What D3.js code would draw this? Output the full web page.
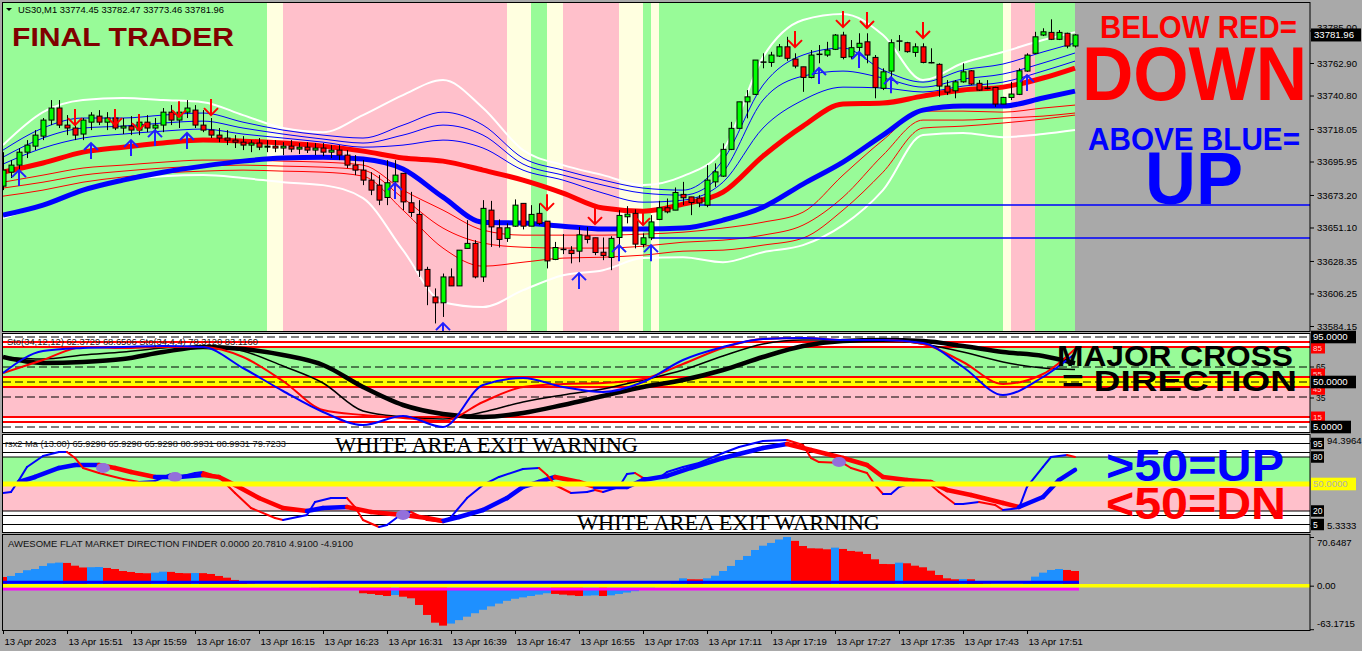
<!DOCTYPE html>
<html><head><meta charset="utf-8">
<script src="https://cdn.jsdelivr.net/npm/d3@7"></script>
<style>
html,body{margin:0;padding:0;background:#A9A9A9;}
svg{display:block;}
</style></head><body>
<svg id="c" width="1362" height="651" font-family="Liberation Sans, Arial, sans-serif"></svg>
<script>
// ---------------- DATA ----------------
const openP = [
33679.2,33688.7,33693.5,33702.3,33706.4,33713.2,33724.1,33732.3,33720.7,33718.7,
33714.6,33722.7,33726.8,33722.7,33725.5,33718.7,33720.0,33717.3,33722.7,33718.7,
33720.7,33729.5,33724.1,33729.5,33730.9,33720.7,33717.3,33713.9,33711.9,33710.5,
33709.1,33707.1,33708.5,33705.7,33706.4,33705.1,33706.4,33704.4,33705.7,33703.7,
33705.1,33702.3,33703.7,33700.3,33693.5,33690.1,33683.3,33679.9,33671.5,33682.1,
33687.9,33667.9,33660.0,33622.6,33603.9,33599.9,33617.5,33611.4,33636.9,33640.3,
33617.5,33662.9,33650.9,33643.7,33652.0,33667.5,33652.0,33660.7,33655.4,33629.4,
33636.2,33635.7,33635.0,33645.4,33644.1,33634.3,33630.7,33644.3,33658.4,33660.7,
33639.6,33644.1,33656.6,33664.5,33662.9,33673.6,33671.9,33671.1,33666.3,33682.1,
33686.0,33704.2,33718.5,33736.5,33741.6,33763.5,33763.3,33767.6,33773.9,33765.6,
33760.3,33753.1,33768.8,33768.3,33772.2,33781.9,33767.1,33773.5,33777.3,33766.7,
33745.7,33757.4,33777.8,33776.7,33770.1,33773.9,33763.1,33762.0,33747.2,33744.0,
33750.1,33757.6,33749.1,33745.7,33746.3,33735.0,33739.5,33741.6,33757.4,33769.5,
33781.9,33783.7,33779.0,33783.1,33774.45];
const highP = [
33702.3,33696.9,33705.1,33710.5,33717.3,33725.5,33737.7,33737.7,33727.5,33720.7,
33725.5,33729.5,33730.9,33729.5,33729.5,33725.5,33726.8,33725.5,33727.5,33725.5,
33732.3,33734.3,33732.3,33737.7,33734.3,33730.9,33725.5,33718.7,33717.3,33713.9,
33713.2,33710.5,33711.9,33710.5,33710.5,33709.1,33710.5,33708.5,33709.1,33708.5,
33708.5,33707.1,33707.1,33703.7,33700.3,33696.9,33688.7,33686.7,33696.9,33696.9,
33688.1,33675.3,33669.7,33624.4,33609.7,33619.8,33623.3,33635.7,33656.1,33642.5,
33669.7,33669.2,33656.6,33653.9,33670.2,33667.5,33666.3,33667.5,33655.4,33641.3,
33646.6,33638.4,33651.5,33651.5,33644.1,33644.3,33645.2,33662.9,33665.6,33663.4,
33647.1,33659.5,33669.2,33670.8,33678.3,33682.1,33671.9,33673.1,33693.5,33694.7,
33708.3,33722.9,33736.5,33744.5,33764.9,33769.5,33770.5,33775.8,33780.7,33769.5,
33760.3,33771.7,33775.1,33777.3,33782.6,33784.1,33778.5,33783.1,33783.1,33768.3,
33759.3,33779.0,33781.9,33777.3,33776.3,33776.3,33772.9,33762.7,33751.3,33751.3,
33762.7,33758.1,33751.3,33751.3,33746.7,33739.9,33750.1,33759.3,33769.5,33784.1,
33786.5,33792.6,33785.3,33783.5,33782.47];
const lowP = [
33676.5,33684.7,33688.7,33698.3,33703.7,33710.5,33720.7,33718.7,33713.9,33710.5,
33710.5,33717.3,33720.7,33717.3,33717.3,33714.6,33713.9,33713.9,33715.9,33713.9,
33715.9,33720.7,33718.7,33725.5,33718.7,33715.9,33711.9,33709.1,33707.1,33705.1,
33703.7,33702.3,33703.7,33702.3,33702.3,33700.3,33702.3,33701.0,33701.7,33700.3,
33699.6,33698.3,33696.9,33691.5,33686.7,33679.9,33673.1,33666.3,33666.3,33675.3,
33662.9,33658.3,33617.5,33598.3,33585.9,33590.3,33611.4,33611.4,33636.9,33616.5,
33614.1,33637.9,33637.5,33641.3,33651.5,33649.8,33652.0,33652.7,33623.3,33628.9,
33633.0,33626.7,33627.5,33640.3,33632.3,33628.9,33622.1,33635.7,33653.9,33636.9,
33637.5,33642.5,33656.1,33660.7,33662.9,33666.3,33659.5,33664.9,33664.9,33678.7,
33685.5,33703.7,33718.5,33725.3,33741.1,33759.3,33760.3,33767.1,33764.4,33759.3,
33743.3,33752.5,33762.7,33767.1,33771.7,33765.4,33765.4,33766.1,33762.7,33738.9,
33744.5,33751.3,33771.2,33769.9,33767.1,33762.7,33762.7,33739.9,33741.1,33738.9,
33749.5,33747.9,33744.0,33745.0,33733.1,33735.0,33737.7,33741.1,33756.9,33769.0,
33781.2,33778.5,33778.5,33772.9,33773.46];
const closeP = [
33690.1,33693.5,33702.3,33707.1,33713.9,33724.1,33732.3,33720.7,33718.7,33713.9,
33724.1,33727.5,33722.7,33725.5,33718.7,33720.0,33717.3,33722.7,33718.7,33720.7,
33729.5,33724.1,33729.5,33732.3,33720.7,33717.3,33713.9,33711.9,33710.5,33709.1,
33707.1,33708.5,33705.7,33706.4,33705.1,33706.4,33704.4,33705.7,33703.7,33705.1,
33702.3,33703.7,33700.3,33693.5,33690.1,33683.3,33676.5,33669.7,33681.5,33686.7,
33668.5,33661.3,33622.1,33611.2,33599.9,33617.5,33611.4,33635.7,33640.3,33617.5,
33664.1,33651.5,33643.0,33650.9,33666.3,33652.0,33660.0,33653.9,33628.4,33637.5,
33636.2,33633.4,33646.1,33643.0,33634.1,33632.1,33643.7,33659.3,33660.2,33639.8,
33644.1,33654.9,33664.5,33661.7,33674.9,33671.3,33668.1,33667.7,33683.3,33688.9,
33704.2,33718.5,33736.5,33739.9,33764.9,33763.5,33768.3,33773.9,33766.1,33760.8,
33753.1,33768.3,33768.8,33771.7,33781.9,33766.7,33773.3,33776.3,33768.3,33746.3,
33756.9,33776.7,33777.8,33770.6,33773.9,33763.3,33763.1,33747.2,33743.1,33750.1,
33756.9,33748.6,33744.5,33745.7,33735.0,33739.5,33741.8,33757.6,33768.3,33780.7,
33784.1,33779.0,33783.7,33774.4,33781.96];

const timeLabels = ["13 Apr 2023","13 Apr 15:51","13 Apr 15:59","13 Apr 16:07","13 Apr 16:15","13 Apr 16:23","13 Apr 16:31","13 Apr 16:39","13 Apr 16:47","13 Apr 16:55","13 Apr 17:03","13 Apr 17:11","13 Apr 17:19","13 Apr 17:27","13 Apr 17:35","13 Apr 17:43","13 Apr 17:51"];
const priceTicks = [33785.00,33762.90,33740.80,33718.05,33695.95,33673.20,33651.10,33628.35,33606.25,33584.15];

// indicator sample bars (every 5 bars)
const maIdx = [0,5,10,15,20,25,30,35,40,45,50,55,60,65,70,75,80,85,90,95,100,105,110,115,120,125,130,134];
const maRed  = [33688.7,33694.9,33702.3,33705.7,33708.5,33710.5,33709.8,33708.5,33706.4,33703.0,33698.3,33696.2,33690.1,33683.3,33674.5,33664.3,33662.2,33667.0,33675.1,33699.6,33720.0,33735.0,33735.7,33740.4,33744.5,33746.5,33752.7,33759.5];
const maBlue = [33659.5,33666.3,33676.5,33683.3,33688.7,33692.8,33696.2,33698.3,33698.9,33697.6,33690.8,33671.7,33654.7,33654.1,33652.0,33650.0,33650.0,33650.7,33656.1,33664.9,33680.6,33695.5,33713.9,33730.9,33733.6,33733.6,33739.1,33743.8];
const upBand1 = [33703.7,33718.7,33725.5,33725.5,33727.5,33728.9,33722.7,33717.3,33713.9,33711.9,33720.7,33729.5,33720.7,33698.3,33690.1,33683.3,33677.9,33676.5,33696.9,33747.9,33768.3,33773.1,33758.1,33749.9,33758.1,33762.2,33770.4,33776.5];
const upBand2 = [33698.9,33711.9,33718.7,33720.0,33722.1,33723.4,33718.7,33714.6,33711.2,33708.5,33713.9,33720.7,33713.9,33694.2,33686.7,33679.9,33674.5,33673.1,33688.7,33737.7,33754.0,33757.4,33752.7,33746.5,33752.0,33755.4,33762.9,33769.7];
const upBand3 = [33694.2,33705.1,33711.9,33714.6,33716.6,33718.0,33714.6,33711.9,33709.1,33705.7,33707.1,33710.5,33705.1,33690.1,33683.3,33674.5,33668.3,33669.7,33681.9,33718.7,33737.7,33746.5,33745.9,33743.2,33747.2,33749.9,33757.4,33764.2];
const dnBand1 = [33681.9,33686.7,33691.5,33693.5,33695.5,33696.9,33696.9,33696.2,33695.5,33693.5,33676.5,33662.9,33649.3,33645.9,33645.9,33645.9,33646.6,33647.9,33650.7,33654.7,33661.5,33686.7,33710.5,33730.2,33730.2,33729.5,33732.3,33734.3];
const dnBand2 = [33677.9,33681.9,33686.7,33689.4,33691.5,33692.8,33693.5,33692.8,33692.1,33690.1,33671.1,33650.7,33640.5,33637.7,33637.1,33637.1,33638.4,33641.1,33642.5,33645.9,33652.7,33671.7,33700.3,33724.1,33724.1,33725.5,33726.8,33728.9];
const dnBand3 = [33672.4,33676.5,33681.9,33685.4,33688.1,33689.4,33690.1,33689.4,33688.7,33686.0,33662.9,33637.1,33624.8,33627.5,33630.3,33630.9,33632.3,33635.0,33635.7,33639.1,33643.9,33662.9,33688.7,33718.7,33720.0,33722.1,33724.8,33727.5];
const outerTop = [33707.1,33729.5,33737.7,33739.1,33737.7,33736.3,33727.5,33718.7,33715.9,33727.5,33741.1,33751.3,33732.3,33703.7,33693.5,33686.7,33679.9,33686.0,33703.7,33766.9,33792.1,33796.2,33781.9,33751.3,33762.9,33770.4,33778.5,33783.9];
const outerBot = [33657.5,33666.3,33676.5,33683.3,33686.0,33686.7,33684.7,33681.9,33679.9,33671.1,33635.7,33600.3,33597.0,33608.5,33618.7,33622.1,33630.3,33630.9,33627.5,33634.3,33639.1,33652.7,33676.5,33713.9,33715.3,33712.5,33714.6,33717.3];

const levelLines = [33666.4, 33644.0];
const levelStart = [87, 81];

const bandStart = [0,33,35,63,66,68,70,77,80,81,82,125,126,129];
const bandType  = ['up','warn','down','warn','up','warn','down','warn','up','warn','up','warn','down','up'];
const bandEnd = 134;

const sellIdx = [9,14,17,22,26,68,74,80,99,105,108,115];
const sellPrice = [33720.7,33720.7,33717.3,33726.1,33727.5,33662.9,33653.4,33652.7,33773.7,33787.3,33786.7,33779.9];
const buyIdx = [2,11,16,19,23,49,55,72,77,81,102,107,111,128];
const buyPrice = [33690.1,33708.5,33710.5,33717.3,33715.3,33681.3,33586.1,33620.1,33639.1,33639.1,33759.5,33770.4,33753.3,33754.7];

// stochastic panel
const stoBlue = [59,81,84,85,86,85,64,41,20,7,16,5,47,54,45,40,50,72,85,93,94,92,92,89,65,37,55,78.3];
const stoRed  = [59,72,85,84,85,85,75,51,22,17,14,11,30,45,48,49,53,68,84,93,94,92,92,88,70,48,58,83.1];
const stoMain = [75,73,77,80,84,86,81,66,49,21,15,13,20,30,37,43,52,62,76,88,92,92,92,88,80,70,64,62.4];
const stoSig  = [75,69,70,73,80,85,83,77,67,45,27,18,15,19,27,36,45,52,62,75,86,91,92,91,86,80,76,68.7];
const stoDashed = [95,65,50,35,5];
const stoRedLevels = [90,85,55,45,15,10];

// rsi panel
const rsiFastIdx = [0,1,2,3,5,7,8,9,10,12,15,17,19,21,22,24,25,27,29,31,34,35,38,39,41,43,44,45,47,48,50,51,53,55,56,58,60,62,65,67,68,69,71,73,74,75,77,78,79,80,82,83,85,87,90,92,95,98,100,101,102,105,106,108,109,110,111,112,114,116,117,119,120,122,124,125,127,128,130,131,133,134];
const rsiFast = [40,41.1,54.4,68.9,81.1,85.6,85.6,78.9,67.8,62.2,55.6,52.2,53.3,61.1,57.8,62.2,63.3,57.8,40,23.3,12.2,10,15.6,30,34.4,34.4,24.4,10,2.2,4.4,17.8,18.9,10,7.8,13.3,34.4,48.9,57.8,66.7,67.8,60,48.9,40,41.1,43.3,41.1,46.7,61.1,62.2,56.7,56.7,63.3,68.9,73.3,84.4,91.1,97.8,98.9,93.3,78.9,74.4,73.3,67.8,62.2,48.9,38.9,38.9,46.7,52.2,48.9,41.1,27.8,27.8,30,26.7,21.1,23.3,46.7,68.9,80,82.2,80];
const rsiSlowIdx = [2,4,7,9,12,14,16,19,22,25,27,29,32,35,38,40,43,46,50,53,55,57,60,63,65,67,69,72,74,78,80,83,86,90,95,98,101,105,108,110,113,116,118,121,125,127,130,132,134];
const rsiSlow = [52.2,57.8,67.8,71.1,71.1,67.8,63.3,57.8,57.8,60,57.8,48.9,34.4,23.3,20,23.3,24.4,18.9,15.6,12.2,8.9,13.3,21.1,34.4,46.7,52.2,57.8,52.2,46.7,46.7,54.4,58.9,67.8,78.9,90,94.4,87.8,78.9,71.1,57.8,54.4,52.2,43.3,37.8,28.9,24.4,35.6,54.4,65.6];
const rsiDotIdx = [12.5,21.5,50,104.5];
const rsiDotVal = [67.8,57.8,15.6,74.4];
const rsiLines = [95,85,80,20,15,5];

// awesome oscillator
const aoVals = [
12.6,14.1,18.4,22.4,24.2,28.6,32.5,33.5,33.0,29.0,
26.4,26.8,27.1,25.7,24.2,21.3,19.9,18.4,18.0,18.9,
20.3,20.0,18.4,18.0,18.4,18.2,17.0,14.1,11.6,8.3,
4.0,3.0,2.5,1.5,1.0,0.0,-1.0,-1.5,-2.0,-2.5,
-3.0,-3.5,-4.0,-5.0,-5.5,-11.0,-12.0,-13.5,-15.0,-13.5,
-16.0,-18.3,-28.0,-42.5,-53.7,-58.0,-55.0,-50.0,-45.0,-40.0,
-35.0,-30.0,-26.0,-22.0,-19.0,-17.0,-15.0,-13.0,-11.0,-12.0,
-13.0,-14.0,-15.0,-14.5,-14.0,-15.0,-14.0,-12.0,-10.0,-8.0,
-6.0,-4.0,-2.0,1.0,5.0,10.7,9.3,9.2,10.7,14.5,
21.3,28.6,37.3,43.1,51.8,58.0,62.0,67.0,70.6,65.0,
57.6,54.3,54.0,52.8,55.2,53.3,50.4,49.4,46.0,38.3,
31.5,31.3,33.4,32.5,29.0,26.7,21.8,15.5,10.7,9.3,
9.7,9.3,5.0,3.0,1.0,0.0,1.0,2.0,4.0,13.1,
18.9,22.8,24.2,22.8,21.3];
const aoLevels = [4.91, 0, -4.91];

// ---------------- DRAW ----------------
const SANS = '"Liberation Sans", Arial, sans-serif';
const SERIF = '"Liberation Serif", "Times New Roman", serif';
const svg = d3.select('#c');
const W = 1362, H = 651, L = 3, R = 1310;
svg.append('rect').attr('width',W).attr('height',H).attr('fill','#A9A9A9');

const x = d3.scaleLinear().domain([0,134]).range([3,1075]);
const yMain = d3.scaleLinear().domain([33580.75,33804.36]).range([331,2]);
const ySto  = d3.scaleLinear().domain([0,100]).range([432,332]);
const yRsi  = d3.scaleLinear().domain([0,100]).range([529,439]);
const yAo   = d3.scaleLinear().domain([-63.1715,70.6487]).range([629.2,537]);

const panels = {main:[2,331], sto:[333,432], rsi:[434,532], ao:[534,630]};
const defs = svg.append('defs');
Object.entries(panels).forEach(([k,[t,b]])=>{
  defs.append('clipPath').attr('id','cl-'+k).append('rect')
    .attr('x',L).attr('y',t+1).attr('width',R-L).attr('height',b-t-1);
});
const bandColor = {up:'#98FB98', down:'#FFC0CB', warn:'#FFFFE0'};

function txt(g, t, x0, yb, fs, col, opts){
  opts = opts || {};
  const e = g.append('text').attr('x',x0).attr('y',yb).text(t).attr('fill',col)
    .style('font-size',fs+'px').style('font-family',opts.fam||SANS).style('font-weight',opts.wt||'normal');
  if (opts.w) e.attr('textLength',opts.w).attr('lengthAdjust','spacingAndGlyphs');
  return e;
}

// ---- main panel
const gm = svg.append('g').attr('clip-path','url(#cl-main)');
bandStart.forEach((s,i)=>{
  const e = i < bandStart.length-1 ? bandStart[i+1] : bandEnd;
  const x0 = i===0 ? L : x(s);
  gm.append('rect').attr('x',x0).attr('y',2).attr('width',x(e)-x0).attr('height',330)
    .attr('fill',bandColor[bandType[i]]);
});
const mline = d3.line().x((d,i)=>x(maIdx[i])).y(d=>yMain(d)).curve(d3.curveMonotoneX);
[[outerTop,'#FFFFFF',2],[outerBot,'#FFFFFF',2],
 [upBand1,'#0000FF',1],[upBand2,'#0000FF',1],[upBand3,'#0000FF',1],
 [dnBand1,'#FF0000',1],[dnBand2,'#FF0000',1],[dnBand3,'#FF0000',1]].forEach(([arr,c,w])=>{
  gm.append('path').attr('d',mline(arr)).attr('fill','none').attr('stroke',c).attr('stroke-width',w);
});
gm.append('path').attr('d',mline(maBlue)).attr('fill','none').attr('stroke','#0000FF').attr('stroke-width',5);
gm.append('path').attr('d',mline(maRed)).attr('fill','none').attr('stroke','#FF0000').attr('stroke-width',5);
levelLines.forEach((p,i)=>{
  gm.append('line').attr('x1',x(levelStart[i])).attr('x2',R).attr('y1',yMain(p)).attr('y2',yMain(p))
    .attr('stroke','#0000FF').attr('stroke-width',1.5);
});
// candles
const cg = gm.append('g');
openP.forEach((o,i)=>{
  const cx = Math.round(x(i))+0.5, c = closeP[i];
  cg.append('line').attr('x1',cx).attr('x2',cx).attr('y1',yMain(highP[i])).attr('y2',yMain(lowP[i]))
    .attr('stroke','#000').attr('stroke-width',1);
  if (Math.abs(c-o) < 0.05) {
    cg.append('line').attr('x1',cx-3).attr('x2',cx+3).attr('y1',yMain(o)).attr('y2',yMain(o))
      .attr('stroke','#000').attr('stroke-width',1.5);
  } else {
    const top = yMain(Math.max(o,c)), bot = yMain(Math.min(o,c));
    cg.append('rect').attr('x',cx-2.5).attr('y',top).attr('width',5).attr('height',Math.max(1,bot-top))
      .attr('fill', c>o ? '#00FF00' : '#FF0000').attr('stroke','#000').attr('stroke-width',1);
  }
});
// arrows
sellIdx.forEach((k,i)=>{
  const cx = x(k), ty = yMain(sellPrice[i]);
  gm.append('path').attr('d',`M${cx},${ty-16}L${cx},${ty}M${cx-7},${ty-7}L${cx},${ty}L${cx+7},${ty-7}`)
    .attr('fill','none').attr('stroke','#FF0000').attr('stroke-width',2);
});
buyIdx.forEach((k,i)=>{
  const cx = x(k), ty = yMain(buyPrice[i]);
  gm.append('path').attr('d',`M${cx},${ty+16}L${cx},${ty}M${cx-7},${ty+7}L${cx},${ty}L${cx+7},${ty+7}`)
    .attr('fill','none').attr('stroke','#2020FF').attr('stroke-width',2);
});
// texts in main
svg.append('path').attr('d','M6,8L12,8L9,11Z').attr('fill','#000');
txt(svg,'US30,M1  ' + [openP[134],highP[134],lowP[134],closeP[134]].map(v=>v.toFixed(2)).join(' '),18,13,9.6,'#000',{w:206});
txt(svg,'FINAL TRADER',12,46,25,'#800000',{w:222,wt:'bold'});
txt(svg,'BELOW RED=',1100,38,31,'#FF0000',{w:197,wt:'bold'});
txt(svg,'DOWN',1082,100,76,'#FF0000',{w:225,wt:'bold'});
txt(svg,'ABOVE BLUE=',1088,150,32,'#0000FF',{w:212,wt:'bold'});
txt(svg,'UP',1145,204,75,'#0000FF',{w:98,wt:'bold'});

// ---- stochastic panel
const gs = svg.append('g').attr('clip-path','url(#cl-sto)');
gs.append('rect').attr('x',L).attr('y',333).attr('width',R-L).attr('height',99).attr('fill','#FFFFFF');
gs.append('rect').attr('x',L).attr('y',ySto(85)).attr('width',R-L).attr('height',ySto(55)-ySto(85)).attr('fill','#98FB98');
gs.append('rect').attr('x',L).attr('y',ySto(55)).attr('width',R-L).attr('height',ySto(45)-ySto(55)).attr('fill','#FFFF00');
gs.append('rect').attr('x',L).attr('y',ySto(45)).attr('width',R-L).attr('height',ySto(15)-ySto(45)).attr('fill','#FFC0CB');
stoRedLevels.forEach(v=>gs.append('line').attr('x1',L).attr('x2',R).attr('y1',ySto(v)).attr('y2',ySto(v)).attr('stroke','#FF0000').attr('stroke-width',2));
stoDashed.forEach(v=>gs.append('line').attr('x1',L).attr('x2',R).attr('y1',ySto(v)).attr('y2',ySto(v)).attr('stroke','#000').attr('stroke-width',1).attr('stroke-dasharray','8,4'));
const sline = d3.line().x((d,i)=>x(maIdx[i])).y(d=>ySto(d)).curve(d3.curveMonotoneX);
gs.append('path').attr('d',sline(stoSig)).attr('fill','none').attr('stroke','#000').attr('stroke-width',4.5);
gs.append('path').attr('d',sline(stoMain)).attr('fill','none').attr('stroke','#000').attr('stroke-width',1.5);
gs.append('path').attr('d',sline(stoRed)).attr('fill','none').attr('stroke','#FF0000').attr('stroke-width',2);
gs.append('path').attr('d',sline(stoBlue)).attr('fill','none').attr('stroke','#0000FF').attr('stroke-width',2);
txt(svg,'Sto(34,12,12) 62.3729 68.6506  Sto(34,4,4) 78.3120 83.1160',7,345,9.5,'#222',{w:251});
txt(svg,'MAJOR CROSS',1057,366,30,'#000',{w:236,wt:'bold'});
txt(svg,'= DIRECTION',1062,391,30,'#000',{w:235,wt:'bold'});

// ---- rsi panel
const gr = svg.append('g').attr('clip-path','url(#cl-rsi)');
gr.append('rect').attr('x',L).attr('y',434).attr('width',R-L).attr('height',98).attr('fill','#FFFFFF');
gr.append('rect').attr('x',L).attr('y',yRsi(80)).attr('width',R-L).attr('height',yRsi(50)-yRsi(80)).attr('fill','#98FB98');
gr.append('rect').attr('x',L).attr('y',yRsi(50)).attr('width',R-L).attr('height',yRsi(20)-yRsi(50)).attr('fill','#FFC0CB');
rsiLines.forEach(v=>gr.append('line').attr('x1',L).attr('x2',R).attr('y1',yRsi(v)).attr('y2',yRsi(v)).attr('stroke','#000').attr('stroke-width',1));
function segLine(g, idx, vals, w){
  for(let i=0;i<idx.length-1;i++){
    g.append('line').attr('x1',x(idx[i])).attr('y1',yRsi(vals[i])).attr('x2',x(idx[i+1])).attr('y2',yRsi(vals[i+1]))
      .attr('stroke', vals[i+1] >= vals[i] ? '#0000FF' : '#FF0000').attr('stroke-width',w).attr('stroke-linecap','round');
  }
}
segLine(gr, rsiSlowIdx, rsiSlow, 4.5);
segLine(gr, rsiFastIdx, rsiFast, 2);
rsiDotIdx.forEach((k,i)=>gr.append('ellipse').attr('cx',x(k)).attr('cy',yRsi(rsiDotVal[i])).attr('rx',7).attr('ry',5).attr('fill','#9370DB'));
svg.append('line').attr('x1',L).attr('x2',R).attr('y1',yRsi(50)).attr('y2',yRsi(50)).attr('stroke','#FFFF00').attr('stroke-width',5);
txt(svg,'rsx2 Ma (13.00) 65.9298 65.9298 65.9298 80.9931 80.9931 79.7233',5,447,8.8,'#222',{w:281});
txt(svg,'WHITE AREA EXIT WARNING',335,452,20,'#000',{w:303,fam:SERIF});
txt(svg,'WHITE AREA EXIT WARNING',577,530,20,'#000',{w:303,fam:SERIF});
txt(svg,'>50=UP',1106,481,44,'#0000FF',{w:178,wt:'bold'});
txt(svg,'<50=DN',1106,519,44,'#FF0000',{w:180,wt:'bold'});

// ---- AO panel
const ga = svg.append('g').attr('clip-path','url(#cl-ao)');
aoVals.forEach((v,i)=>{
  const prev = i>0 ? aoVals[i-1] : Infinity;
  const y0 = yAo(0), y1 = yAo(v);
  ga.append('rect').attr('x',x(i)-4).attr('width',8).attr('y',Math.min(y0,y1)).attr('height',Math.abs(y1-y0))
    .attr('fill', v > prev ? '#1E90FF' : '#FF0000');
});
ga.append('line').attr('x1',L).attr('x2',x(134)+4).attr('y1',yAo(aoLevels[0])).attr('y2',yAo(aoLevels[0])).attr('stroke','#0000FF').attr('stroke-width',3);
ga.append('line').attr('x1',L).attr('x2',x(134)+4).attr('y1',yAo(aoLevels[2])).attr('y2',yAo(aoLevels[2])).attr('stroke','#FF00FF').attr('stroke-width',3);
svg.append('line').attr('x1',L).attr('x2',R).attr('y1',yAo(aoLevels[1])).attr('y2',yAo(aoLevels[1])).attr('stroke','#FFFF00').attr('stroke-width',3.5);
txt(svg,'AWESOME FLAT MARKET DIRECTION FINDER 0.0000 20.7810 4.9100 -4.9100',8,547,9.8,'#111',{w:345});

// ---- frames
Object.values(panels).forEach(([t,b])=>{
  svg.append('rect').attr('x',2.5).attr('y',t+0.5).attr('width',R-2.5).attr('height',b-t)
    .attr('fill','none').attr('stroke','#000').attr('stroke-width',1);
});

// ---- axes
function styleAxis(g){
  g.select('.domain').remove();
  g.selectAll('text').style('font-size','9.6px').style('font-family',SANS).attr('fill','#000');
  g.selectAll('line').attr('stroke','#000');
}
const axMain = d3.axisRight(yMain).tickValues(priceTicks).tickFormat(d3.format('.2f')).tickSize(4).tickPadding(3);
const gax = svg.append('g').attr('transform',`translate(${R},0)`).call(axMain);
styleAxis(gax);
gax.selectAll('text').filter(d=>d===33785.00).attr('dy','-0.05em');
// current price box
const cp = closeP[134];
svg.append('rect').attr('x',1311).attr('y',yMain(cp)-6.5).attr('width',50).attr('height',13).attr('fill','#000');
txt(svg,cp.toFixed(2),1314,yMain(cp)+3.5,9.6,'#FFF');

function boxLabel(yv, t, bg, fg, w, fs){
  fs = fs || 9.6;
  const h = fs + 3;
  svg.append('rect').attr('x',1311).attr('y',yv-h/2).attr('width',w).attr('height',h).attr('fill',bg);
  txt(svg,t,1313,yv+fs*0.36,fs,fg);
}
function plainLabel(yv, t, x0, fs){
  svg.append('line').attr('x1',R).attr('x2',R+4).attr('y1',yv).attr('y2',yv).attr('stroke','#000');
  fs = fs || 9.6;
  txt(svg,t,x0||1316,yv+fs*0.36,fs,'#000');
}
// sto labels
plainLabel(ySto(65),'65',1316,8.5); plainLabel(ySto(35)+1,'35',1316,8.5);
boxLabel(ySto(85)+1,'85','#FF0000','#FFD0D0',14,8);
boxLabel(ySto(55)-3,'55','#FF0000','#FFD0D0',14,8);
boxLabel(ySto(45)+2.5,'45','#FF0000','#FFD0D0',14,7.5);
boxLabel(ySto(15),'15','#FF0000','#FFD0D0',14,8);
boxLabel(ySto(95),'95.0000','#000','#FFF',45);
boxLabel(ySto(50),'50.0000','#000','#FFF',45);
boxLabel(ySto(5),'5.0000','#000','#FFF',40);
// rsi labels
plainLabel(441,'94.3964',1327);
plainLabel(526,'5.3333',1327);
[[95,'95'],[80,'80'],[20,'20'],[5,'5']].forEach(([v,t])=>boxLabel(yRsi(v),t,'#000','#FFF',13,8.5));
boxLabel(yRsi(50),'50.0000','#FFFF00','#B0B0B0',45);
// ao labels
const axAo = d3.axisRight(yAo).tickValues([70.6487,0,-63.1715]).tickFormat(d=>d===0?'0.00':d.toFixed(4)).tickSize(4).tickPadding(3);
const gao = svg.append('g').attr('transform',`translate(${R},0)`).call(axAo);
styleAxis(gao);
gao.selectAll('text').attr('dy',(d)=> d>60 ? '0.9em' : (d<-60 ? '-0.3em' : '0.32em'));
// time axis
const tIdx = timeLabels.map((_,i)=>i*8);
const axT = d3.axisBottom(x).tickValues(tIdx).tickFormat((d,i)=>timeLabels[i]).tickSize(4).tickPadding(4);
const gt = svg.append('g').attr('transform','translate(0,630)').call(axT);
styleAxis(gt);
gt.selectAll('text').attr('text-anchor','start').attr('x',1);
</script>
</body></html>
